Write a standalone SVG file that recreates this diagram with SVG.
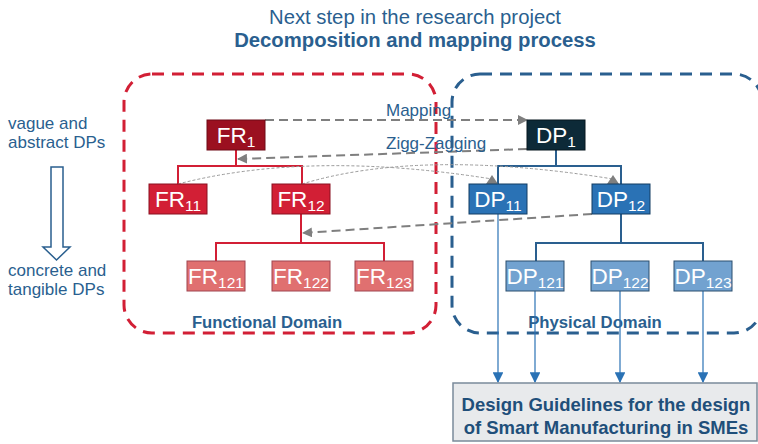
<svg xmlns="http://www.w3.org/2000/svg" width="758" height="444" viewBox="0 0 758 444">
<defs>
<style>
text{font-family:"Liberation Sans",Arial,sans-serif}
.t{fill:#2a5f8f;font-size:17px}
.tb{fill:#2a5f8f;font-size:16.7px;font-weight:bold}
.nt{fill:#ffffff;font-size:22.5px;text-anchor:middle}
.sub{font-size:15.5px}
.fr1{fill:#9b1020;stroke:#6e0a16;stroke-width:1}
.dp1{fill:#0d2a38;stroke:#06161f;stroke-width:1}
.fr2{fill:#d21f35;stroke:#8a1020;stroke-width:1}
.dp2{fill:#2a72b5;stroke:#123d63;stroke-width:1}
.fr3{fill:#e07070;stroke:#a04550;stroke-width:1}
.dp3{fill:#72a2d0;stroke:#2b4e6e;stroke-width:1}
.rl{fill:none;stroke:#d21f35;stroke-width:2}
.bl{fill:none;stroke:#2a5f8f;stroke-width:2}
.gd{fill:none;stroke:#7f7f7f;stroke-width:2;stroke-dasharray:9,5}
.gt{fill:none;stroke:#9a9a9a;stroke-width:1;stroke-dasharray:3,2}
.vl{fill:none;stroke:#2a72b5;stroke-width:1.2}
</style>
<marker id="ag" viewBox="0 0 10 10" refX="9" refY="5" markerWidth="5" markerHeight="5" orient="auto" markerUnits="strokeWidth"><path d="M0,0 L10,5 L0,10 z" fill="#7f7f7f"/></marker>
<marker id="ab" viewBox="0 0 10 10" refX="9" refY="5" markerWidth="9" markerHeight="9" orient="auto" markerUnits="strokeWidth"><path d="M0,0 L10,5 L0,10 z" fill="#2a72b5"/></marker>
</defs>
<rect width="758" height="444" fill="#ffffff"/>

<g id="title">
<text x="415" y="24" text-anchor="middle" style="fill:#2a5f8f;font-size:20.3px">Next step in the research project</text>
<text x="415" y="47" text-anchor="middle" style="fill:#2a5f8f;font-size:20.3px;font-weight:bold">Decomposition and mapping process</text>
</g>

<g id="side">
<text class="t" x="8" y="129">vague and</text>
<text class="t" x="8" y="148">abstract DPs</text>
<path d="M51,167 H63 V247 H70 L56.5,260 L43,247 H51 Z" fill="#ffffff" stroke="#2a5f8f" stroke-width="1.5"/>
<text class="t" x="8" y="276">concrete and</text>
<text class="t" x="8" y="295">tangible DPs</text>
</g>

<g id="functional-domain">
<rect x="124" y="74" width="312" height="259" rx="28" fill="none" stroke="#d21f35" stroke-width="3" stroke-dasharray="12,8"/>
<text class="tb" x="267" y="328" text-anchor="middle">Functional Domain</text>
</g>
<g id="physical-domain">
<rect x="452" y="74" width="310" height="259" rx="28" fill="none" stroke="#2a5f8f" stroke-width="3" stroke-dasharray="12,8"/>
<text class="tb" x="595" y="328" text-anchor="middle">Physical Domain</text>
</g>

<g id="connectors">
<path class="rl" d="M236,150 V166 M178,184 V166 H302 V184"/>
<path class="rl" d="M301,214 V243 M216,261 V243 H384 V261"/>
<path class="bl" d="M556,150 V166 M498,184 V166 H621 V184"/>
<path class="bl" d="M621,214 V243 M536,261 V243 H703 V261"/>
<path class="gd" d="M265,120 H527" marker-end="url(#ag)"/>
<path class="gd" d="M527,149 L238,159" marker-end="url(#ag)"/>
<path class="gd" d="M592,214 L303,233" marker-end="url(#ag)"/>
<path class="gt" d="M178,184 Q310,150 492,179"/>
<path class="gt" d="M302,184 Q420,148 613,179"/>
<path d="M486,184 L492,175 L498,184 Z" fill="#7f7f7f"/>
<path d="M607,184 L613,175 L619,184 Z" fill="#7f7f7f"/>
<path class="vl" d="M498,214 V382" marker-end="url(#ab)"/>
<path class="vl" d="M535,291 V382" marker-end="url(#ab)"/>
<path class="vl" d="M620,291 V382" marker-end="url(#ab)"/>
<path class="vl" d="M703,291 V382" marker-end="url(#ab)"/>
<text class="t" x="386" y="116">Mapping</text>
<text class="t" x="386" y="149">Zigg-Zagging</text>
</g>

<g id="FR1"><rect class="fr1" x="207" y="120" width="58" height="30"/><text class="nt" x="236" y="143">FR<tspan class="sub" dy="4">1</tspan></text></g>
<g id="DP1"><rect class="dp1" x="527" y="120" width="58" height="30"/><text class="nt" x="556" y="143">DP<tspan class="sub" dy="4">1</tspan></text></g>
<g id="FR11"><rect class="fr2" x="149" y="184" width="58" height="30"/><text class="nt" x="178" y="207">FR<tspan class="sub" dy="4">11</tspan></text></g>
<g id="FR12"><rect class="fr2" x="272" y="184" width="58" height="30"/><text class="nt" x="301" y="207">FR<tspan class="sub" dy="4">12</tspan></text></g>
<g id="DP11"><rect class="dp2" x="469" y="184" width="58" height="30"/><text class="nt" x="498" y="207">DP<tspan class="sub" dy="4">11</tspan></text></g>
<g id="DP12"><rect class="dp2" x="592" y="184" width="58" height="30"/><text class="nt" x="621" y="207">DP<tspan class="sub" dy="4">12</tspan></text></g>
<g id="FR121"><rect class="fr3" x="187" y="261" width="58" height="30"/><text class="nt" x="216" y="284">FR<tspan class="sub" dy="4">121</tspan></text></g>
<g id="FR122"><rect class="fr3" x="272" y="261" width="58" height="30"/><text class="nt" x="301" y="284">FR<tspan class="sub" dy="4">122</tspan></text></g>
<g id="FR123"><rect class="fr3" x="355" y="261" width="58" height="30"/><text class="nt" x="384" y="284">FR<tspan class="sub" dy="4">123</tspan></text></g>
<g id="DP121"><rect class="dp3" x="506" y="261" width="58" height="30"/><text class="nt" x="535" y="284">DP<tspan class="sub" dy="4">121</tspan></text></g>
<g id="DP122"><rect class="dp3" x="591" y="261" width="58" height="30"/><text class="nt" x="620" y="284">DP<tspan class="sub" dy="4">122</tspan></text></g>
<g id="DP123"><rect class="dp3" x="674" y="261" width="58" height="30"/><text class="nt" x="703" y="284">DP<tspan class="sub" dy="4">123</tspan></text></g>

<g id="guidelines">
<rect x="453" y="383" width="304" height="58" fill="#e8eaec" stroke="#7a8a9a" stroke-width="1.5"/>
<text x="606" y="411" text-anchor="middle" style="fill:#1f4f7a;font-size:18.5px;font-weight:bold">Design Guidelines for the design</text>
<text x="606" y="434" text-anchor="middle" style="fill:#1f4f7a;font-size:18.5px;font-weight:bold">of Smart Manufacturing in SMEs</text>
</g>
</svg>
